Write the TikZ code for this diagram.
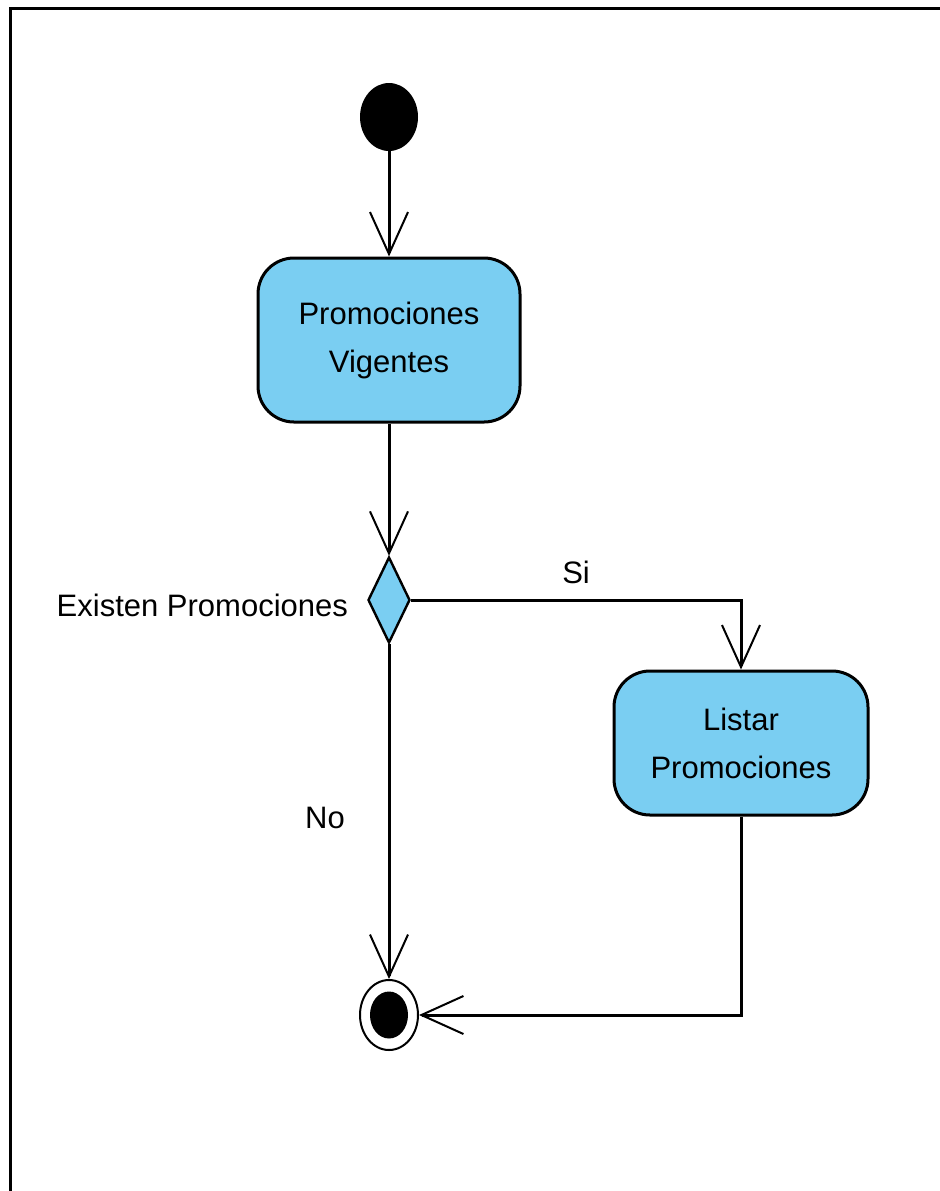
\documentclass[tikz,border=0pt]{standalone}
\usepackage{fontspec}
\setmainfont{Liberation Sans}
\usetikzlibrary{shapes.geometric,arrows.meta}
\definecolor{actblue}{RGB}{122,206,242}
\tikzset{
  activity/.style={draw,line width=1.5pt,fill=actblue,rounded corners=18pt,align=center,
    font=\fontsize{15.5}{24}\selectfont},
  flow/.style={line width=1.5pt,-{Straight Barb[length=21pt,width=19pt,line width=1pt]}},
  lbl/.style={font=\fontsize{15.5}{24}\selectfont}
}
\begin{document}
\begin{tikzpicture}[x=0.5pt,y=-0.5pt]
\useasboundingbox (0,0) rectangle (939,1191);
\draw[line width=1.5pt] (10,1200) |- (950,8);
\node[ellipse,fill=black,minimum width=29pt,minimum height=34pt,inner sep=0pt] (start) at (389,117) {};
\node[activity,minimum width=131pt,minimum height=82pt] (vigentes) at (389,340) {Promociones\\Vigentes};
\node[diamond,draw,line width=1.2pt,fill=actblue,minimum width=21pt,minimum height=43pt,inner sep=0pt] (existen) at (389,600) {};
\node[lbl,anchor=east] (existenlbl) at (355,605) {Existen Promociones};
\node[activity,minimum width=127pt,minimum height=72pt] (listar) at (741,743) {Listar\\Promociones};
\node[ellipse,draw,line width=1pt,minimum width=29pt,minimum height=35pt,inner sep=0pt] (end) at (389,1015) {};
\node[ellipse,fill=black,minimum width=19pt,minimum height=23.5pt,inner sep=0pt] (endin) at (389,1015) {};
\draw[flow] (start) -- (vigentes);
\draw[flow] (vigentes) -- (existen);
\draw[flow] (existen.east) -| node[lbl,pos=0.25,above=4pt] (si) {Si} (listar.north);
\draw[flow] (existen.south) -- node[lbl,pos=0.52,left=18pt] (no) {No} (end.north);
\draw[flow] (listar.south) |- (end.east);
\end{tikzpicture}
\end{document}
